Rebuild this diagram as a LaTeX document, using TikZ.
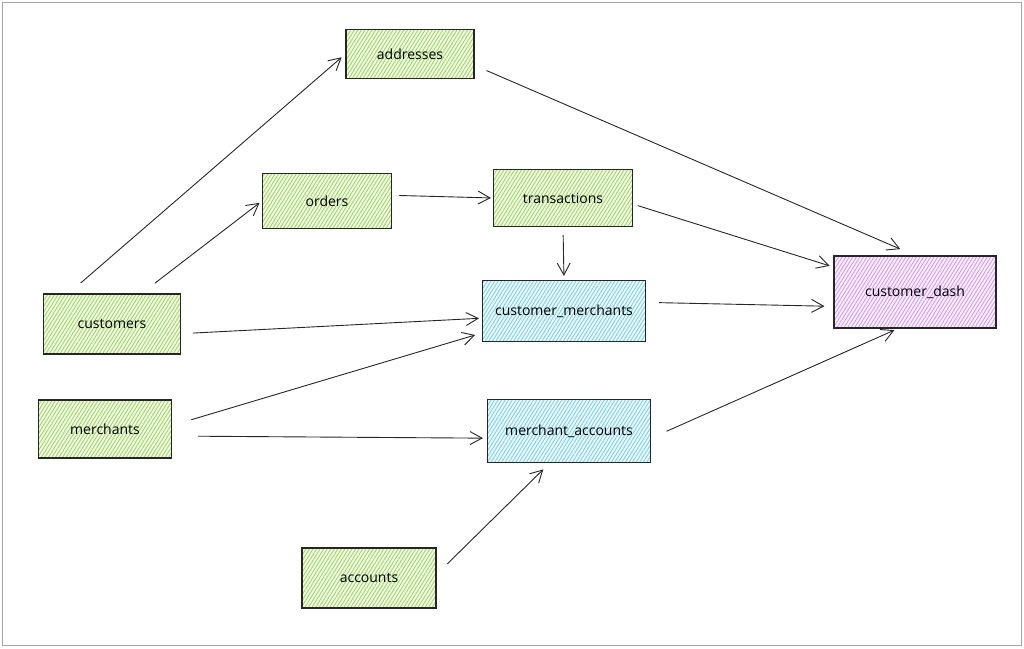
\documentclass[tikz,border=0pt]{standalone}
\usepackage{fontspec}
\setmainfont{Open Sans}
\usepackage{tikz}
\usetikzlibrary{arrows.meta,patterns.meta}
\definecolor{hatchGreen}{HTML}{A4D665}
\definecolor{hatchBlue}{HTML}{80D2E4}
\definecolor{hatchPurple}{HTML}{D69BEC}
\tikzset{%
  >={Straight Barb[length=12pt,width=13pt]},
  % Specifications for style of nodes:
     table/.style = {rectangle, draw=black!85, line width=1.1pt,
                           minimum width=130pt, minimum height=55pt,
                           text centered, font=\fontsize{14}{16}\selectfont},
    sourceTable/.style = {table, preaction={fill=hatchGreen!15},
                           pattern={Lines[angle=58,distance=3pt,line width=0.9pt]},
                           pattern color=hatchGreen},
    joinTable/.style = {table, minimum width=163pt, preaction={fill=hatchBlue!15},
                           pattern={Lines[angle=58,distance=3pt,line width=0.9pt]},
                           pattern color=hatchBlue},
    dashTable/.style = {table, minimum width=162pt, minimum height=72pt,
                           preaction={fill=hatchPurple!15},
                           pattern={Lines[angle=58,distance=3pt,line width=0.9pt]},
                           pattern color=hatchPurple},
    link/.style = {->, line width=0.9pt, black!85},
}
\begin{document}
\begin{tikzpicture}[x=1pt, y=1pt, node distance=100pt]
  \useasboundingbox (0,0) rectangle (1024,648);
  \draw[gray!70, line width=0.8pt] (2,3) rectangle (1021,646);

  % Specification of nodes (position, etc.)
  \node (customers)         [sourceTable, minimum width=137pt, minimum height=60pt] at (112,324) {customers};

  \node (merchants)         [sourceTable, minimum width=133pt, minimum height=58pt, below of=customers, xshift=-7pt, yshift=-5pt] {merchants};

  \node (orders)            [sourceTable, minimum width=129pt, right of=customers, xshift=115pt, yshift=123pt] {orders};

  \node (addresses)         [sourceTable, minimum width=128pt, minimum height=49pt, above of=orders, xshift=83pt, yshift=47pt] {addresses};

  \node (transactions)      [sourceTable, minimum width=139pt, minimum height=57pt, right of=orders, xshift=136pt, yshift=3pt] {transactions};

  \node (customerMerchants) [joinTable, minimum height=61pt, below of=transactions, xshift=1pt, yshift=-13pt] {customer\_merchants};

  \node (merchantAccounts)  [joinTable, minimum height=63pt, below of=customerMerchants, xshift=5pt, yshift=-20pt] {merchant\_accounts};

  \node (accounts)          [sourceTable, minimum width=134pt, minimum height=60pt, below of=merchantAccounts, xshift=-200pt, yshift=-47pt] {accounts};

  \node (customerDash)      [dashTable, right of=customerMerchants, xshift=251pt, yshift=19pt] {customer\_dash};

  % Specification of lines between nodes specified above
  \draw[link, shorten <=16pt, shorten >=5pt]  (customers.145) to (addresses.west);
  \draw[link, shorten <=17pt, shorten >=3pt]  (customers.46) to (orders.west);
  \draw[link, shorten <=12pt, shorten >=3pt]  (customers.-8) to (customerMerchants.185);

  \draw[link, shorten <=7pt, shorten >=2pt]   (orders.5) to (transactions.west);
  \draw[link, shorten <=8pt, shorten >=4pt]   (transactions.south) to (customerMerchants.north);

  \draw[link, shorten <=13pt, shorten >=16pt] (addresses.-10) to (customerDash.north);
  \draw[link, shorten <=5pt, shorten >=4pt]   (transactions.-5) to (customerDash.163);
  \draw[link, shorten <=13pt, shorten >=9pt]  (customerMerchants.6) to (customerDash.190);

  \draw[link, shorten <=20pt, shorten >=7pt]  (merchants.3) to (customerMerchants.195);
  \draw[link, shorten <=26pt, shorten >=4pt]  (merchants.-6) to (merchantAccounts.185);

  \draw[link, shorten <=17pt, shorten >=4pt]  (merchantAccounts.-5) to (customerDash.245);
  \draw[link, shorten <=15pt, shorten >=9pt]  (accounts.3) to (merchantAccounts.239);

\end{tikzpicture}
\end{document}
